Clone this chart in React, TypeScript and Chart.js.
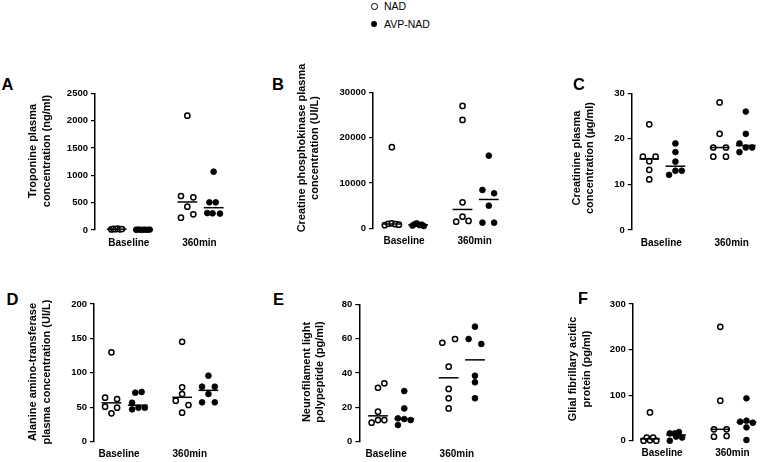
import React, { useEffect, useRef } from 'react';
import { Chart, registerables } from 'chart.js';

Chart.register(...registerables);
const FAMILY = '"Liberation Sans", Arial, sans-serif';
Chart.defaults.font.family = FAMILY;
Chart.defaults.color = '#000';

// ---------- shared categories ----------
const groups = ['Baseline', '360min'];
const seriesNames = ['NAD', 'AVP-NAD'];

// ---------- A: Troponine (ng/ml) ----------
const tropTicks = [0, 500, 1000, 1500, 2000, 2500];
const tropNadBase = [10, 20, 15, 25, 12, 18];
const tropAvpBase = [5, 8, 3, 6, 4, 7];
const tropNad360 = [622, 598, 427, 226, 287, 2091];
const tropAvp360 = [1067, 506, 506, 310, 305, 300];
const tropNadBaseJit = [-0.075, -0.045, -0.015, 0.015, 0.045, 0.075];
const tropAvpBaseJit = [-0.095, -0.057, -0.019, 0.019, 0.057, 0.095];
const tropNad360Jit = [-0.09, 0.085, 0, -0.09, 0.085, 0];
const tropAvp360Jit = [0, -0.06, 0.03, -0.09, -0.015, 0.09];

// ---------- B: Creatine phosphokinase (UI/L) ----------
const cpkTicks = [0, 10000, 20000, 30000];
const cpkNadBase = [17900, 700, 1000, 1100, 900, 800];
const cpkAvpBase = [600, 900, 1100, 700, 800, 500];
const cpkNad360 = [26985, 23900, 5735, 1470, 2574, 1617];
const cpkAvp360 = [16030, 8456, 7721, 5000, 1250, 1250];
const cpkNadBaseJit = [0, -0.1, -0.05, 0, 0.05, 0.1];
const cpkAvpBaseJit = [-0.08, -0.05, -0.02, 0.02, 0.05, 0.08];
const cpkNad360Jit = [0, 0, 0, -0.09, 0, 0.085];
const cpkAvp360Jit = [0, -0.09, 0.075, 0, -0.09, 0.075];

// ---------- C: Creatinine (µg/ml) ----------
const creaTicks = [0, 10, 20, 30];
const creaNadBase = [23.2, 16.1, 16.1, 15.1, 13.2, 11.1];
const creaAvpBase = [19, 17.1, 15, 12.1, 13, 13];
const creaNad360 = [28, 21.1, 18.1, 18.1, 16.1, 16.1];
const creaAvp360 = [26, 21.1, 19, 17.1, 18.1, 18.1];
const creaNadBaseJit = [0, -0.09, 0.09, 0, 0, 0];
const creaAvpBaseJit = [0, 0, 0, -0.09, 0, 0.09];
const creaNad360Jit = [0, 0, -0.09, 0.09, -0.09, 0.09];
const creaAvp360Jit = [0, 0, -0.09, -0.09, 0, 0.09];

// ---------- D: Alanine amino-transferase (UI/L) ----------
const altTicks = [0, 50, 100, 150, 200];
const altNadBase = [129.8, 63.9, 62, 50.8, 49.4, 41.2];
const altAvpBase = [71.2, 72.2, 56.6, 47, 49.4, 49.4];
const altNad360 = [145.2, 79, 69.3, 59.6, 53.3, 42.1];
const altAvp360 = [95.9, 79.9, 79.9, 69.3, 57.2, 57.2];
const altNadBaseJit = [0, -0.09, 0.08, -0.09, 0.08, 0];
const altAvpBaseJit = [-0.035, 0.055, -0.08, -0.08, 0.01, 0.1];
const altNad360Jit = [0, 0, 0, -0.09, 0.09, 0];
const altAvp360Jit = [0, -0.09, 0.09, 0, -0.09, 0.09];

// ---------- E: Neurofilament light polypeptide (pg/ml) ----------
const nflTicks = [0, 20, 40, 60, 80];
const nflNadBase = [31.4, 34, 17.5, 11.1, 12.6, 12.6];
const nflAvpBase = [29.5, 19.4, 13.6, 13.2, 12.6, 9.7];
const nflNad360 = [57.6, 59.8, 43.7, 30.7, 25.3, 19.4];
const nflAvp360 = [67, 59.8, 56.9, 38.4, 34.6, 25.3];
const nflNadBaseJit = [0, 0.09, 0, -0.09, 0, 0.09];
const nflAvpBaseJit = [0, 0, -0.09, 0, 0.09, -0.09];
const nflNad360Jit = [-0.09, 0.09, 0, 0, 0, 0];
const nflAvp360Jit = [0, -0.09, 0.09, 0, 0, 0];

// ---------- F: Glial fibrillary acidic protein (pg/ml) ----------
const gfapTicks = [0, 100, 200, 300];
const gfapNadBase = [62, 0, 7, 1, 7, 0];
const gfapAvpBase = [0, 16, 16, 19, 7, 9];
const gfapNad360 = [250, 87.8, 25, 25, 8.8, 10.3];
const gfapAvp360 = [93, 41.7, 43.9, 39.5, 29.4, 1.5];
const gfapNadBaseJit = [0, -0.09, -0.045, 0, 0.045, 0.09];
const gfapAvpBaseJit = [-0.09, -0.09, -0.02, 0.04, 0.085, 0];
const gfapNad360Jit = [0, 0, -0.09, 0.09, -0.09, 0.09];
const gfapAvp360Jit = [0, -0.09, 0, 0.09, 0, 0];

// ---------- layout (not data) ----------
const UNIT = 73.5; // px between group centres
const SERIES_OFF = 0.186; // NAD left, AVP-NAD right of the group centre
const MED_HALF = 0.14;
const TITLE_LH = 13.5;
const TITLE_SIZE = 11;

type PanelDef = {
  letter: string; title: string[]; ticks: number[];
  nadBase: number[]; avpBase: number[]; nad360: number[]; avp360: number[];
  jNadBase: number[]; jAvpBase: number[]; jNad360: number[]; jAvp360: number[];
  t1: number; ty: number; axisX: number; top: number; bottom: number; g1: number; right: number; lblOff: number;
  lx: number; ly: number;
};

const panels: PanelDef[] = [
  { letter: 'A', title: ['Troponine plasma', 'concentration (ng/ml)'], ticks: tropTicks,
    nadBase: tropNadBase, avpBase: tropAvpBase, nad360: tropNad360, avp360: tropAvp360,
    jNadBase: tropNadBaseJit, jAvpBase: tropAvpBaseJit, jNad360: tropNad360Jit, jAvp360: tropAvp360Jit,
    t1: 33.3, ty: 151, axisX: 95, top: 93.3, bottom: 230, g1: 131.2, right: 238, lblOff: -1, lx: 1.5, ly: 76 },
  { letter: 'B', title: ['Creatine phosphokinase plasma', 'concentration (UI/L)'], ticks: cpkTicks,
    nadBase: cpkNadBase, avpBase: cpkAvpBase, nad360: cpkNad360, avp360: cpkAvp360,
    jNadBase: cpkNadBaseJit, jAvpBase: cpkAvpBaseJit, jNad360: cpkNad360Jit, jAvp360: cpkAvp360Jit,
    t1: 301.7, ty: 148, axisX: 373, top: 92.3, bottom: 228.3, g1: 406.3, right: 515, lblOff: -1, lx: 272, ly: 76 },
  { letter: 'C', title: ['Creatinine plasma', 'concentration (µg/ml)'], ticks: creaTicks,
    nadBase: creaNadBase, avpBase: creaAvpBase, nad360: creaNad360, avp360: creaAvp360,
    jNadBase: creaNadBaseJit, jAvpBase: creaAvpBaseJit, jNad360: creaNad360Jit, jAvp360: creaAvp360Jit,
    t1: 576.7, ty: 158, axisX: 631.7, top: 93.3, bottom: 230, g1: 663.7, right: 761, lblOff: -1, lx: 573, ly: 76 },
  { letter: 'D', title: ['Alanine amino-transferase', 'plasma concentration (UI/L)'], ticks: altTicks,
    nadBase: altNadBase, avpBase: altAvpBase, nad360: altNad360, avp360: altAvp360,
    jNadBase: altNadBaseJit, jAvpBase: altAvpBaseJit, jNad360: altNad360Jit, jAvp360: altAvp360Jit,
    t1: 33.3, ty: 372, axisX: 94, top: 304, bottom: 441.7, g1: 125.8, right: 238, lblOff: -5.5, lx: 6.5, ly: 291 },
  { letter: 'E', title: ['Neurofilament light', 'polypeptide (pg/ml)'], ticks: nflTicks,
    nadBase: nflNadBase, avpBase: nflAvpBase, nad360: nflNad360, avp360: nflAvp360,
    jNadBase: nflNadBaseJit, jAvpBase: nflAvpBaseJit, jNad360: nflNad360Jit, jAvp360: nflAvp360Jit,
    t1: 306.7, ty: 372, axisX: 359.3, top: 304.3, bottom: 441.7, g1: 392.4, right: 503, lblOff: -5, lx: 273, ly: 291 },
  { letter: 'F', title: ['Glial fibrillary acidic', 'protein (pg/ml)'], ticks: gfapTicks,
    nadBase: gfapNadBase, avpBase: gfapAvpBase, nad360: gfapNad360, avp360: gfapAvp360,
    jNadBase: gfapNadBaseJit, jAvpBase: gfapAvpBaseJit, jNad360: gfapNad360Jit, jAvp360: gfapAvp360Jit,
    t1: 573.3, ty: 369, axisX: 632.7, top: 304, bottom: 440.7, g1: 664.4, right: 761, lblOff: -1, lx: 578, ly: 290 },
];

function median(a: number[]) {
  const s = [...a].sort((x, y) => x - y);
  const m = Math.floor(s.length / 2);
  return s.length % 2 ? s[m] : (s[m - 1] + s[m]) / 2;
}

function geom(p: PanelDef) {
  const cl = Math.floor(p.t1 - 8);
  const ct = Math.floor(Math.min(p.top - 10, p.ty - 95));
  const cb = Math.ceil(p.bottom + 25);
  const cr = Math.round(p.right);
  return { cl, ct, cw: cr - cl, ch: cb - ct, padTop: p.top - ct, xAxisH: cb - p.bottom, yAxisW: p.axisX - cl, areaW: cr - p.axisX };
}

function pts(vals: number[], jit: number[], centre: number) {
  return vals.map((v, i) => ({ x: centre + jit[i], y: v }));
}

function medLine(vals: number[], centre: number) {
  const m = median(vals);
  return {
    type: 'scatter' as const, showLine: true, order: 0, clip: false as const,
    data: [{ x: centre - MED_HALF, y: m }, { x: centre + MED_HALF, y: m }],
    borderColor: '#000', borderWidth: 1.5, pointRadius: 0, label: 'median',
  };
}

// draws the two-line rotated y-axis title at a chosen spot in the canvas
function sideTitlePlugin(lines: string[], x: number, y: number) {
  return {
    id: 'sideTitle',
    afterDraw(chart: any) {
      const ctx = chart.ctx as CanvasRenderingContext2D;
      ctx.save();
      ctx.font = `bold ${TITLE_SIZE}px ${FAMILY}`;
      ctx.fillStyle = '#000';
      ctx.textAlign = 'center';
      ctx.textBaseline = 'middle';
      lines.forEach((line, i) => {
        ctx.save();
        ctx.translate(x + i * TITLE_LH, y);
        ctx.rotate(-Math.PI / 2);
        ctx.fillText(line, 0, 0);
        ctx.restore();
      });
      ctx.restore();
    },
  };
}

function buildConfig(p: PanelDef) {
  const g = geom(p);
  const xmin = 1 - (p.g1 - p.axisX) / UNIT;
  const xmax = xmin + g.areaW / UNIT;
  const cN = [1 - SERIES_OFF, 2 - SERIES_OFF];
  const cA = [1 + SERIES_OFF, 2 + SERIES_OFF];
  return {
    type: 'scatter' as const,
    plugins: [sideTitlePlugin(p.title, p.t1 - g.cl, p.ty - g.ct)],
    data: {
      datasets: [
        medLine(p.nadBase, cN[0]), medLine(p.avpBase, cA[0]),
        medLine(p.nad360, cN[1]), medLine(p.avp360, cA[1]),
        {
          label: seriesNames[0], order: 1, clip: false as const,
          data: [...pts(p.nadBase, p.jNadBase, cN[0]), ...pts(p.nad360, p.jNad360, cN[1])],
          pointRadius: 2.6, pointBorderWidth: 1.5, pointBackgroundColor: '#fff', pointBorderColor: '#000',
        },
        {
          label: seriesNames[1], order: 1, clip: false as const,
          data: [...pts(p.avpBase, p.jAvpBase, cA[0]), ...pts(p.avp360, p.jAvp360, cA[1])],
          pointRadius: 2.9, pointBorderWidth: 0.8, pointBackgroundColor: '#000', pointBorderColor: '#000',
        },
      ],
    },
    options: {
      animation: false as const, responsive: false, devicePixelRatio: 1,
      layout: { padding: { top: g.padTop, left: 0, right: 0, bottom: 0 } },
      plugins: { legend: { display: false }, tooltip: { enabled: false } },
      scales: {
        x: {
          type: 'linear' as const, min: xmin, max: xmax,
          afterBuildTicks: (s: any) => { s.ticks = groups.map((_, i) => ({ value: i + 1 })); },
          afterFit: (s: any) => { s.height = g.xAxisH; },
          ticks: {
            callback: (v: any) => groups[Math.round(v) - 1] ?? '',
            font: { size: 10, weight: 'bold' as const }, color: '#000', padding: 7,
            labelOffset: p.lblOff, autoSkip: false, maxRotation: 0,
          },
          grid: { display: false, drawTicks: false },
          border: { display: false },
        },
        y: {
          type: 'linear' as const, min: p.ticks[0], max: p.ticks[p.ticks.length - 1],
          afterBuildTicks: (s: any) => { s.ticks = p.ticks.map((v) => ({ value: v })); },
          afterFit: (s: any) => { s.width = g.yAxisW; },
          ticks: { callback: (v: any) => String(v), font: { size: 9.5, weight: 'bold' as const }, color: '#000', padding: 3 },
          grid: { drawOnChartArea: false, drawTicks: true, tickLength: 4, color: '#000', lineWidth: 1.2 },
          border: { display: true, color: '#000', width: 1.5 },
          title: { display: false },
        },
      },
    },
  };
}

function Panel({ p }: { p: PanelDef }) {
  const ref = useRef<HTMLCanvasElement>(null);
  const g = geom(p);
  useEffect(() => {
    const chart = new Chart(ref.current as HTMLCanvasElement, buildConfig(p) as any);
    return () => chart.destroy();
  }, []);
  return (
    <canvas ref={ref} width={g.cw} height={g.ch}
      style={{ position: 'absolute', left: g.cl, top: g.ct, width: g.cw, height: g.ch }} />
  );
}

export default function App() {
  return (
    <div style={{ position: 'absolute', left: 0, top: 0, width: 761, height: 462, overflow: 'hidden', background: '#fff', fontFamily: FAMILY }}>
      {panels.map((p) => (
        <React.Fragment key={p.letter}>
          <Panel p={p} />
          <div style={{ position: 'absolute', left: p.lx, top: p.ly, fontSize: 16.5, lineHeight: '16px', fontWeight: 'bold', color: '#000' }}>{p.letter}</div>
        </React.Fragment>
      ))}
      <div style={{ position: 'absolute', left: 371, top: 3, width: 6.5, height: 6.5, boxSizing: 'border-box', border: '1.5px solid #000', borderRadius: '50%', background: '#fff' }} />
      <div style={{ position: 'absolute', left: 384, top: 0, fontSize: 10.5, lineHeight: '12px', color: '#000' }}>{seriesNames[0]}</div>
      <div style={{ position: 'absolute', left: 371, top: 21, width: 6, height: 6, borderRadius: '50%', background: '#000' }} />
      <div style={{ position: 'absolute', left: 384, top: 18, fontSize: 10.5, lineHeight: '12px', color: '#000' }}>{seriesNames[1]}</div>
    </div>
  );
}
